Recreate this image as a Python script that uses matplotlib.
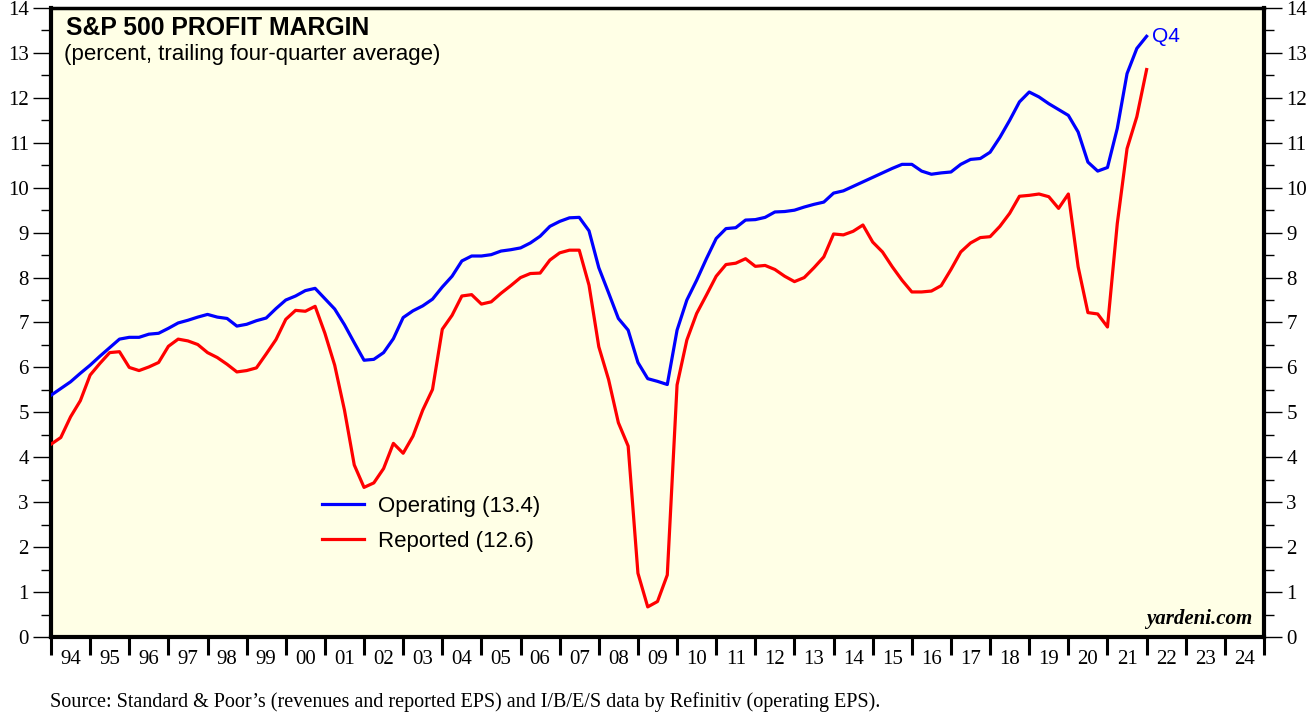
import numpy as np
import pandas as pd
import matplotlib
matplotlib.use('Agg')
import matplotlib.pyplot as plt
from matplotlib.ticker import FixedLocator, MultipleLocator

# trimestres (fin de trimestre) 1993Q4 .. 2021Q4
quarters = pd.period_range('1993Q4', '2021Q4', freq='Q')

operating = [5.38, 5.53, 5.68, 5.87, 6.05, 6.25, 6.44, 6.63, 6.67, 6.67,
             6.74, 6.76, 6.87, 6.99, 7.05, 7.12, 7.18, 7.12, 7.09, 6.92,
             6.96, 7.04, 7.10, 7.31, 7.50, 7.59, 7.71, 7.76, 7.53, 7.30,
             6.95, 6.55, 6.16, 6.18, 6.33, 6.64, 7.11, 7.26, 7.37, 7.52,
             7.79, 8.03, 8.37, 8.48, 8.48, 8.51, 8.59, 8.62, 8.66, 8.77,
             8.92, 9.14, 9.25, 9.33, 9.34, 9.04, 8.22, 7.66, 7.09, 6.83,
             6.11, 5.75, 5.69, 5.62, 6.83, 7.50, 7.94, 8.42, 8.87, 9.09,
             9.11, 9.28, 9.29, 9.34, 9.46, 9.47, 9.50, 9.57, 9.63, 9.68,
             9.88, 9.93, 10.03, 10.13, 10.23, 10.33, 10.43, 10.52, 10.52, 10.37,
             10.30, 10.33, 10.35, 10.52, 10.63, 10.65, 10.79, 11.12, 11.50, 11.91,
             12.13, 12.02, 11.87, 11.74, 11.61, 11.24, 10.57, 10.37, 10.45, 11.32,
             12.54, 13.10, 13.37]

reported = [4.29, 4.44, 4.90, 5.26, 5.83, 6.09, 6.33, 6.35, 6.00, 5.93,
            6.01, 6.11, 6.47, 6.63, 6.59, 6.51, 6.33, 6.22, 6.07, 5.90,
            5.93, 5.99, 6.30, 6.62, 7.07, 7.27, 7.25, 7.36, 6.76, 6.05,
            5.05, 3.83, 3.33, 3.43, 3.75, 4.31, 4.09, 4.47, 5.05, 5.51,
            6.85, 7.16, 7.59, 7.62, 7.41, 7.46, 7.65, 7.82, 8.00, 8.09,
            8.10, 8.39, 8.55, 8.61, 8.61, 7.83, 6.46, 5.73, 4.77, 4.25,
            1.42, 0.67, 0.79, 1.38, 5.61, 6.61, 7.20, 7.61, 8.03, 8.29,
            8.32, 8.42, 8.25, 8.27, 8.18, 8.03, 7.91, 8.00, 8.22, 8.46,
            8.97, 8.95, 9.03, 9.17, 8.79, 8.57, 8.24, 7.94, 7.68, 7.68,
            7.70, 7.82, 8.18, 8.57, 8.77, 8.89, 8.91, 9.14, 9.43, 9.81,
            9.83, 9.86, 9.80, 9.54, 9.86, 8.24, 7.22, 7.19, 6.90, 9.20,
            10.87, 11.58, 12.63]

years = list(range(1994, 2025))
year_labels = [f'{y % 100:02d}' for y in years]

x = np.array([q.year + q.quarter / 4 for q in quarters])

serif = 'Liberation Serif'
sans = 'Liberation Sans'
bg = '#FFFFE6'

fig = plt.figure(figsize=(13.15, 7.15), dpi=100)
ax = fig.add_axes([51 / 1315, 1 - 637 / 715, 1213 / 1315, 629 / 715])
ax.set_facecolor(bg)

ax.plot(x, operating, color='#0000FF', lw=2.3, label=f'Operating ({operating[-1]:.1f})', zorder=3)
ax.plot(x, reported, color='#FF0000', lw=2.3, label=f'Reported ({reported[-1]:.1f})', zorder=3)

ax.set_xlim(years[0], years[-1] + 1)
ax.set_ylim(0, 14)

# eje x: marcas en limites de año, etiquetas centradas
ax.xaxis.set_major_locator(FixedLocator(years + [years[-1] + 1]))
ax.xaxis.set_minor_locator(FixedLocator([y + 0.5 for y in years]))
ax.set_xticklabels([])
ax.set_xticklabels(year_labels, minor=True)
ax.tick_params(axis='x', which='major', direction='out', length=13, width=2.2, color='black')
ax.tick_params(axis='x', which='minor', length=0, pad=9, labelsize=15)

# eje y en ambos lados
ax.yaxis.set_major_locator(MultipleLocator(1))
ax.yaxis.set_minor_locator(MultipleLocator(0.5))
ax.tick_params(axis='y', which='major', direction='out', length=13, width=1.0,
               left=True, right=True, labelleft=True, labelright=True, labelsize=15, pad=3)
ax.tick_params(axis='y', which='minor', direction='out', length=7, width=1.0,
               left=True, right=True)
for lab in ax.get_xticklabels(minor=True) + ax.get_yticklabels():
    lab.set_fontfamily(serif)

for side in ['left', 'right', 'bottom']:
    ax.spines[side].set_linewidth(3)
ax.spines['top'].set_linewidth(2.5)

ax.text(0.012, 0.988, 'S&P 500 PROFIT MARGIN', transform=ax.transAxes,
        fontsize=17.8, fontweight='bold', fontfamily=sans, va='top', ha='left')
ax.text(0.011, 0.942, '(percent, trailing four-quarter average)', transform=ax.transAxes,
        fontsize=16, fontfamily=sans, va='top', ha='left')

ax.annotate('Q4', xy=(x[-1], operating[-1]), xytext=(4, 0), textcoords='offset points',
            color='#0000FF', fontsize=15, fontfamily=sans, va='center', ha='left')

leg = ax.legend(loc='upper left', bbox_to_anchor=(0.207, 0.256), frameon=False,
                prop={'family': sans, 'size': 16}, handlelength=1.9,
                handletextpad=0.6, labelspacing=0.62)

ax.text(0.99, 0.012, 'yardeni.com', transform=ax.transAxes, fontsize=15,
        fontstyle='italic', fontweight='bold', fontfamily=serif, ha='right', va='bottom')

fig.text(50 / 1315, 1 - 702 / 715, 'Source: Standard & Poor\u2019s (revenues and reported EPS) and I/B/E/S data by Refinitiv (operating EPS).',
         fontsize=14.5, fontfamily=serif, ha='left', va='center')

fig.savefig('out.png', dpi=100, facecolor='white')
